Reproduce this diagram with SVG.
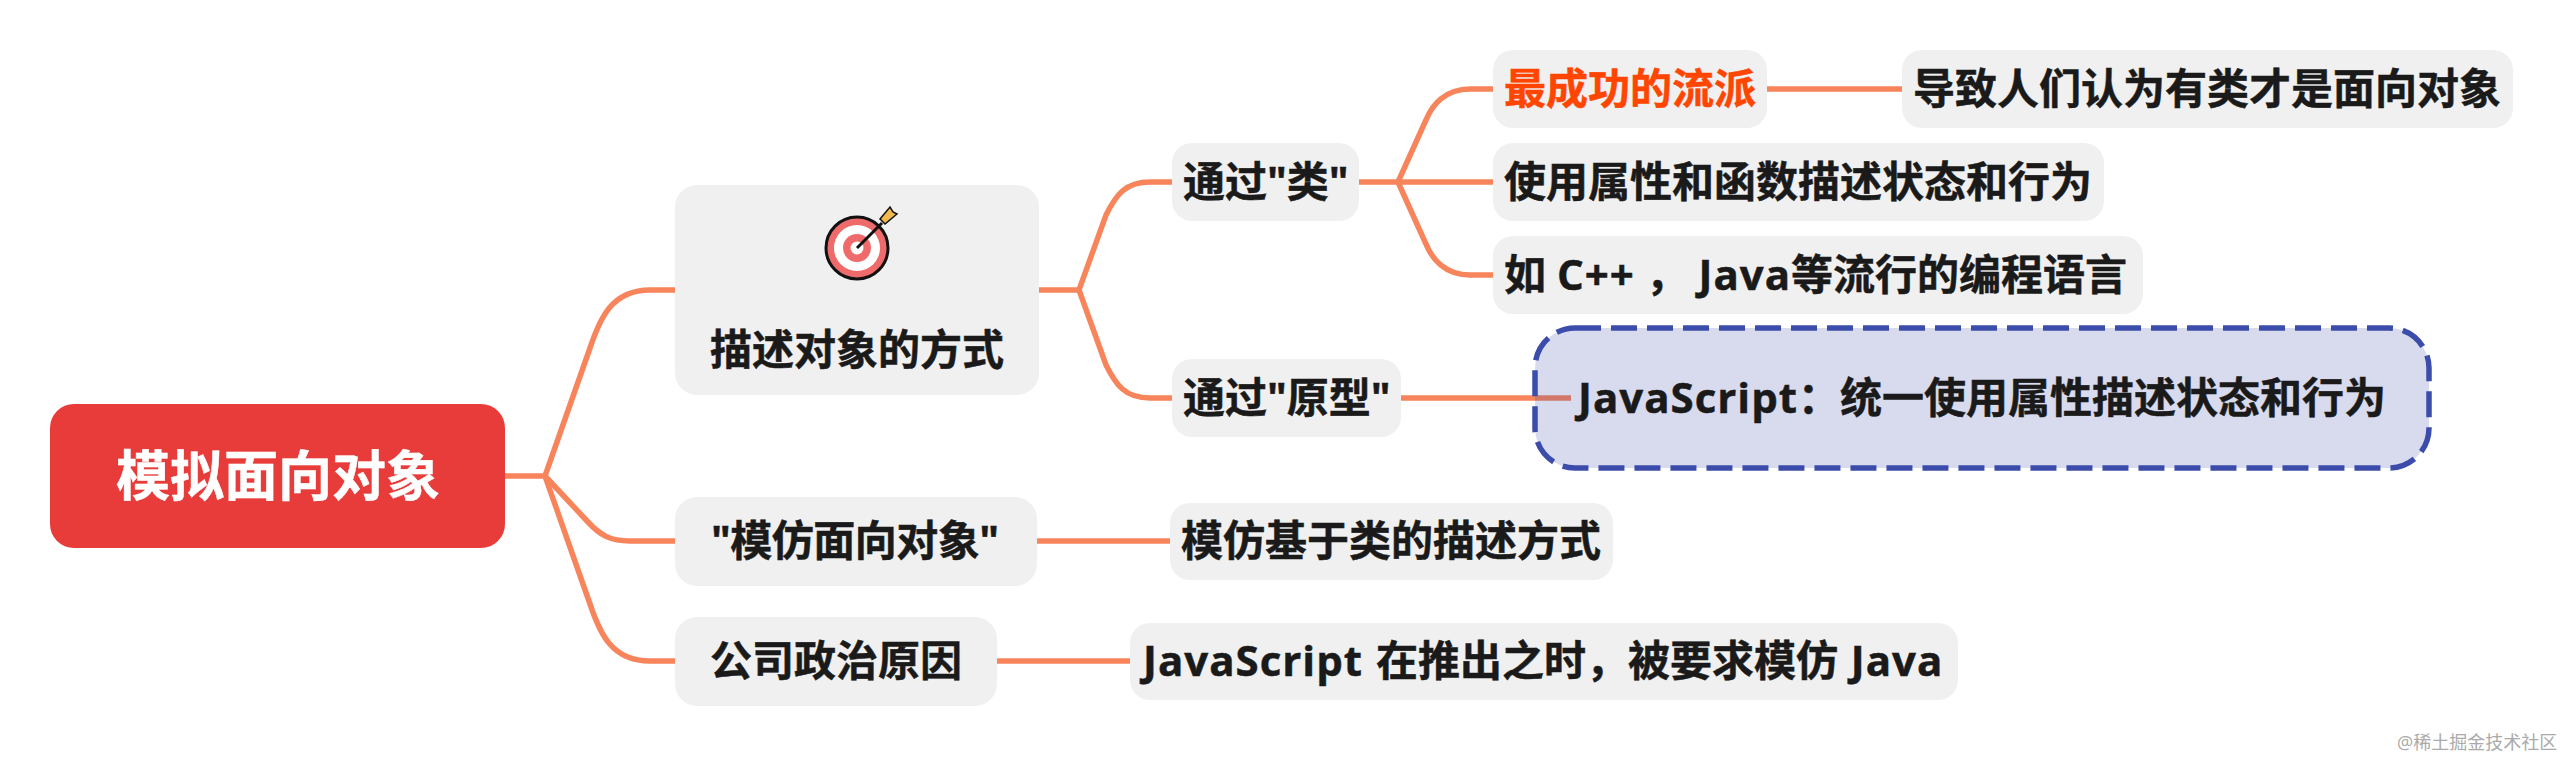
<svg xmlns="http://www.w3.org/2000/svg" width="2563" height="757" viewBox="0 0 2563 757">
<style>
text{font-family:"Open Sans","Noto Sans CJK SC",sans-serif;font-weight:700;font-size:42px;fill:#1a1a1a;stroke:#1a1a1a;stroke-width:.5px}
tspan.l{letter-spacing:1px}
.n{fill:#f0f0f0}
.c{fill:none;stroke:#f7845b;stroke-width:5.5}
</style>
<rect width="2563" height="757" fill="#fff"/>
<g id="connectors">
<path class="c" d="M505 476H545M545 476L590 348C600 318 612 290 650 290H675"/>
<path class="c" d="M545 476L590 604C600 634 612 661 650 661H675"/>
<path class="c" d="M545 476L588 522C600 535 610 541 630 541H675"/>
<path class="c" d="M1039 290H1079L1106 215C1116 195 1125 182 1150 182H1173"/>
<path class="c" d="M1079 290L1106 365C1116 385 1125 398 1150 398H1173"/>
<path class="c" d="M1359 182H1494"/>
<path class="c" d="M1398 182L1426 120C1432 105 1445 89 1470 89H1494"/>
<path class="c" d="M1398 182L1426 244C1432 259 1445 275 1470 275H1494"/>
<path class="c" d="M1767 89H1902"/>
<path class="c" d="M1401 398H1571"/>
<path class="c" d="M1037 541H1170"/>
<path class="c" d="M997 661H1130"/>
</g>
<g id="root"><rect x="50" y="404" width="455" height="144" rx="24" fill="#e73c39"/><text x="116" y="496" style="font-size:54px;fill:#fff;stroke:#fff">模拟面向对象</text></g>
<g id="n1"><rect class="n" x="675" y="185" width="364" height="210" rx="22"/>
<g id="n1-icon"><circle cx="857" cy="248" r="31" fill="#ef6b6b" stroke="#111" stroke-width="3"/><circle cx="857" cy="248" r="23" fill="#fff"/><circle cx="857" cy="248" r="14" fill="#ef6b6b"/><circle cx="857" cy="248" r="6.5" fill="#fff"/><path d="M857 248L882 223" stroke="#111" stroke-width="3" fill="none"/><path d="M880 219L890 207L893 212L897 214L885 224Z" fill="#efb94f" stroke="#111" stroke-width="1.5"/></g>
<text x="710" y="365">描述对象的方式</text></g>
<g id="n2"><rect class="n" x="675" y="497" width="362" height="89" rx="22"/><text x="711" y="556" letter-spacing="-.5">"模仿面向对象"</text></g>
<g id="n3"><rect class="n" x="675" y="617" width="322" height="89" rx="22"/><text x="710" y="676">公司政治原因</text></g>
<g id="n4"><rect class="n" x="1172" y="143" width="187" height="78" rx="20"/><text x="1183" y="197">通过"类"</text></g>
<g id="n5"><rect class="n" x="1172" y="359" width="229" height="78" rx="20"/><text x="1183" y="413">通过"原型"</text></g>
<g id="n6"><rect class="n" x="1493" y="50" width="274" height="78" rx="20"/><text x="1504" y="104" style="fill:#ff4500;stroke:#ff4500">最成功的流派</text></g>
<g id="n7"><rect class="n" x="1902" y="50" width="611" height="78" rx="20"/><text x="1913" y="104">导致人们认为有类才是面向对象</text></g>
<g id="n8"><rect class="n" x="1493" y="143" width="611" height="78" rx="20"/><text x="1504" y="197">使用属性和函数描述状态和行为</text></g>
<g id="n9"><rect class="n" x="1493" y="236" width="650" height="78" rx="20"/><text x="1504" y="290">如 <tspan class="l">C++</tspan> ， <tspan class="l">Java</tspan>等流行的编程语言</text></g>
<g id="n10"><rect x="1535" y="328" width="894" height="140" rx="40" fill="#3b4cab" fill-opacity=".2" stroke="#3b4cab" stroke-width="5.5" stroke-dasharray="26 10"/><text x="1578" y="413"><tspan class="l">JavaScript</tspan>：统一使用属性描述状态和行为</text></g>
<g id="n11"><rect class="n" x="1170" y="503" width="443" height="77" rx="20"/><text x="1181" y="556">模仿基于类的描述方式</text></g>
<g id="n12"><rect class="n" x="1130" y="623" width="828" height="77" rx="20"/><text x="1143" y="676" word-spacing="2"><tspan class="l">JavaScript</tspan> 在推出之时，被要求模仿 <tspan class="l">Java</tspan></text></g>
<text id="watermark" x="2397" y="749" style="font-size:18px;font-weight:400;fill:#aaa;stroke:none">@稀土掘金技术社区</text>
</svg>
